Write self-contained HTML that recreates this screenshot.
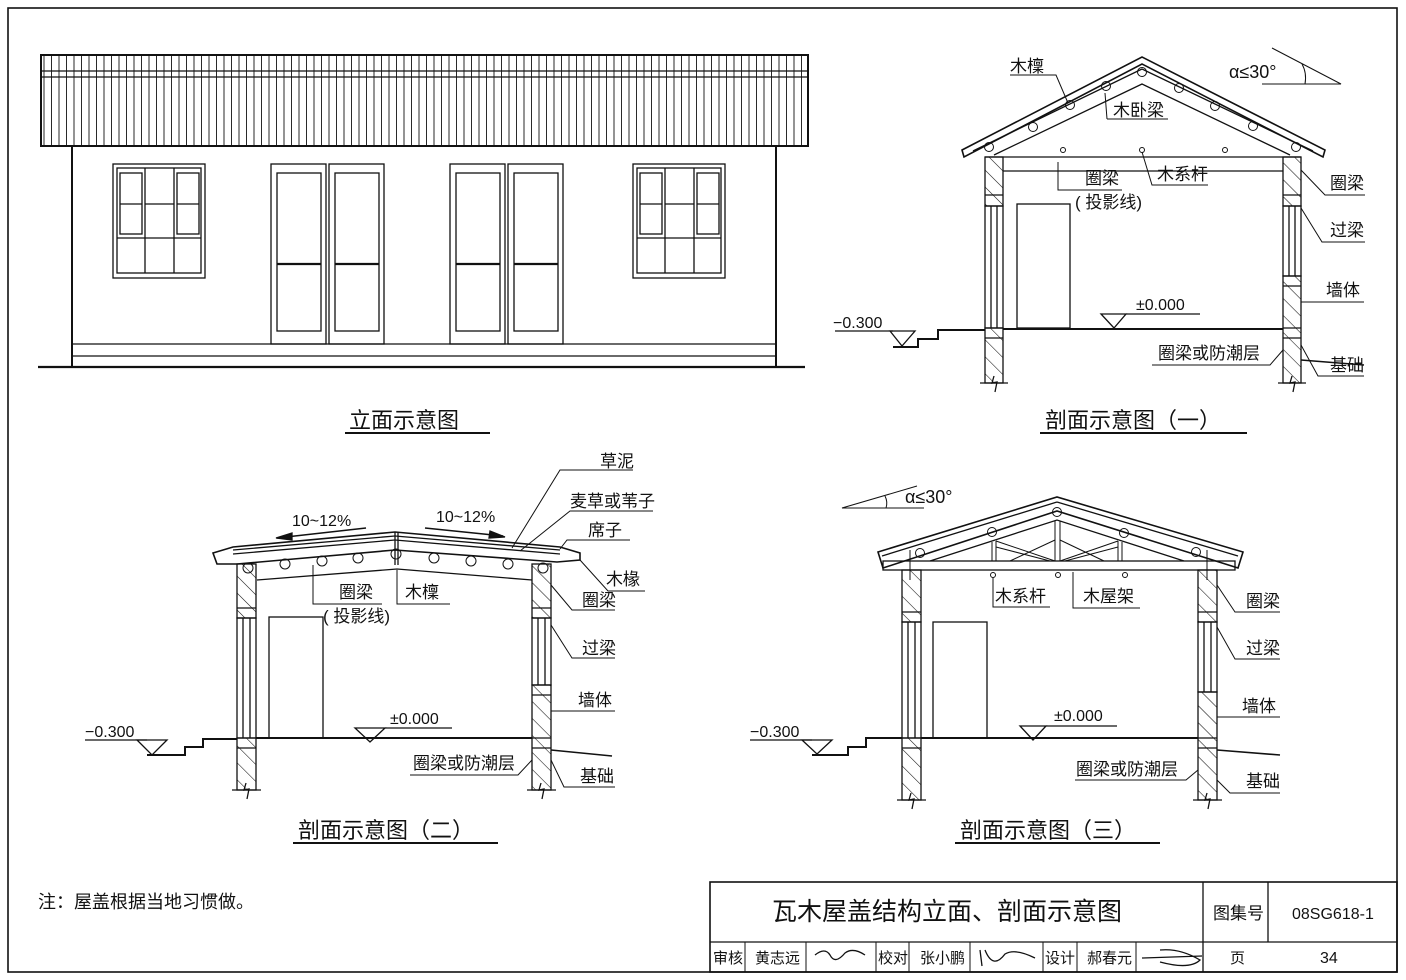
<!DOCTYPE html>
<html><head><meta charset="utf-8"><style>
html,body{margin:0;padding:0;background:#fff}
svg{display:block}
text{font-family:"Liberation Sans","Noto Sans CJK SC",sans-serif;fill:#111}
</style></head><body>
<svg width="1406" height="980" viewBox="0 0 1406 980" xmlns="http://www.w3.org/2000/svg">
<defs>
<pattern id="h" width="12" height="12" patternUnits="userSpaceOnUse" patternTransform="rotate(-45)">
<line x1="0" y1="0" x2="0" y2="12" stroke="#111" stroke-width="1.1"/></pattern>
<pattern id="rv" width="7.5" height="10" patternUnits="userSpaceOnUse" x="41">
<line x1="3" y1="0" x2="3" y2="10" stroke="#111" stroke-width="0.9"/></pattern>
</defs>
<g fill="none" stroke="#111" stroke-width="1.3">
<rect x="8" y="8" width="1389" height="964" stroke-width="1.6"/>
<!-- ELEVATION -->
<rect x="41" y="55" width="767" height="91" fill="url(#rv)" stroke-width="2"/>
<line x1="41" y1="71" x2="808" y2="71"/><line x1="41" y1="77" x2="808" y2="77"/>
<polyline points="72,146 72,367" stroke-width="2"/><polyline points="776,146 776,367" stroke-width="2"/>
<line x1="72" y1="344" x2="776" y2="344"/><line x1="72" y1="356" x2="776" y2="356"/>
<line x1="38" y1="367" x2="805" y2="367" stroke-width="2.2"/>
<g id="win">
<rect x="113" y="164" width="92" height="114"/><rect x="117" y="168" width="84" height="105"/>
<line x1="145" y1="168" x2="145" y2="273"/><line x1="174" y1="168" x2="174" y2="273"/>
<line x1="117" y1="238" x2="201" y2="238"/><line x1="145" y1="204" x2="174" y2="204"/>
<rect x="120" y="173" width="22" height="61"/><rect x="177" y="173" width="22" height="61"/>
<line x1="120" y1="204" x2="142" y2="204"/><line x1="177" y1="204" x2="199" y2="204"/>
</g>
<use href="#win" transform="translate(520,0)"/>
<g id="door">
<rect x="271" y="164" width="55" height="180"/><rect x="329" y="164" width="55" height="180"/>
<rect x="277" y="173" width="44" height="158"/><rect x="335" y="173" width="44" height="158"/>
<line x1="277" y1="264" x2="321" y2="264" stroke-width="2.2"/><line x1="335" y1="264" x2="379" y2="264" stroke-width="2.2"/>
</g>
<use href="#door" transform="translate(179,0)"/>

<!-- SECTION 1 -->
<polygon points="962,150 1142,57 1325,150 1323,157 1142,64 964,157" stroke-width="1.6"/>
<line x1="973" y1="151" x2="1142" y2="69"/><line x1="1142" y1="69" x2="1313" y2="151"/>
<polyline points="994,155 1142,84 1290,155"/>
<line x1="985" y1="157" x2="1301" y2="157"/><line x1="1003" y1="171" x2="1283" y2="171"/>
<g stroke-width="1">
<circle cx="989" cy="147" r="4.5"/><circle cx="1033" cy="127" r="4.5"/><circle cx="1070" cy="105" r="4.5"/><circle cx="1106" cy="86" r="4.5"/><circle cx="1142" cy="72" r="4.5"/><circle cx="1179" cy="88" r="4.5"/><circle cx="1215" cy="106" r="4.5"/><circle cx="1253" cy="126" r="4.5"/><circle cx="1296" cy="147" r="4.5"/>
<circle cx="1063" cy="150" r="2.5"/><circle cx="1142" cy="150" r="2.5"/><circle cx="1225" cy="150" r="2.5"/>
</g>
<g>
<rect x="985" y="157" width="18" height="49" fill="url(#h)"/><line x1="985" y1="195" x2="1003" y2="195"/>
<rect x="985" y="206" width="18" height="122"/><line x1="991" y1="206" x2="991" y2="328"/><line x1="997" y1="206" x2="997" y2="328"/>
<rect x="985" y="328" width="18" height="55" fill="url(#h)"/><line x1="985" y1="338" x2="1003" y2="338"/>
<rect x="1283" y="157" width="18" height="49" fill="url(#h)"/><line x1="1283" y1="195" x2="1301" y2="195"/>
<rect x="1283" y="206" width="18" height="70"/><line x1="1289" y1="206" x2="1289" y2="276"/><line x1="1295" y1="206" x2="1295" y2="276"/>
<rect x="1283" y="276" width="18" height="107" fill="url(#h)"/><line x1="1283" y1="286" x2="1301" y2="286"/><line x1="1283" y1="328" x2="1301" y2="328"/><line x1="1283" y1="338" x2="1301" y2="338"/>
<line x1="980" y1="383" x2="1008" y2="383"/><line x1="1278" y1="383" x2="1306" y2="383"/>
<polyline points="994,376 992,383 997,382 995,392"/><polyline points="1292,376 1290,383 1295,382 1293,392"/>
</g>
<rect x="1017" y="204" width="53" height="124"/>
<line x1="1003" y1="329" x2="1283" y2="329" stroke-width="2"/>
<polyline points="893,347 918,347 918,339 938,339 938,330 985,330" stroke-width="2"/>
<line x1="835" y1="331" x2="893" y2="331"/><polygon points="890,331 915,331 902,346"/>
<polygon points="1101,314 1126,314 1114,328"/><line x1="1126" y1="314" x2="1200" y2="314"/>
<line x1="1301" y1="360" x2="1364" y2="365" stroke-width="1.6"/>
<g stroke-width="1">
<polyline points="1010,75 1056,75 1068,103"/><polyline points="1107,119 1105,93"/><line x1="1107" y1="119" x2="1168" y2="119"/>
<polyline points="1058,162 1058,190 1122,190"/><polyline points="1142,152 1152,185 1208,185"/>
<polyline points="1301,170 1325,195 1365,195"/><polyline points="1301,208 1322,242 1365,242"/>
<line x1="1301" y1="302" x2="1364" y2="302"/><polyline points="1283,350 1270,365 1152,365"/><polyline points="1301,345 1318,376 1364,376"/>
<polyline points="1272,48 1341,84 1262,84"/><path d="M1302,64 Q1307,73 1305,84"/>
</g>

<!-- SECTION 2 -->
<polygon points="213,553 233,547 395,532 560,547 580,553 580,560 557,562 395,550 237,564 217,564" stroke-width="1.6"/>
<line x1="233" y1="550" x2="395" y2="536"/><line x1="395" y1="536" x2="560" y2="550"/>
<line x1="233" y1="554" x2="395" y2="540"/><line x1="395" y1="540" x2="560" y2="554"/>
<polyline points="257,580 397,569 532,580"/><line x1="395" y1="532" x2="395" y2="565"/><line x1="398" y1="532" x2="398" y2="565"/>
<g stroke-width="1">
<circle cx="248" cy="568" r="5"/><circle cx="285" cy="564" r="5"/><circle cx="322" cy="561" r="5"/><circle cx="358" cy="558" r="5"/><circle cx="396" cy="554" r="5"/><circle cx="434" cy="558" r="5"/><circle cx="471" cy="561" r="5"/><circle cx="508" cy="564" r="5"/><circle cx="543" cy="568" r="5"/>
</g>
<g>
<rect x="237" y="564" width="19" height="54" fill="url(#h)"/><line x1="237" y1="608" x2="256" y2="608"/>
<rect x="237" y="618" width="19" height="120"/><line x1="243" y1="618" x2="243" y2="738"/><line x1="250" y1="618" x2="250" y2="738"/>
<rect x="237" y="738" width="19" height="52" fill="url(#h)"/><line x1="237" y1="748" x2="256" y2="748"/>
<rect x="532" y="564" width="19" height="54" fill="url(#h)"/><line x1="532" y1="608" x2="551" y2="608"/>
<rect x="532" y="618" width="19" height="67"/><line x1="538" y1="618" x2="538" y2="685"/><line x1="545" y1="618" x2="545" y2="685"/>
<rect x="532" y="685" width="19" height="105" fill="url(#h)"/><line x1="532" y1="695" x2="551" y2="695"/><line x1="532" y1="738" x2="551" y2="738"/><line x1="532" y1="748" x2="551" y2="748"/>
<line x1="232" y1="790" x2="261" y2="790"/><line x1="527" y1="790" x2="556" y2="790"/>
<polyline points="246,783 244,790 249,789 247,799"/><polyline points="541,783 539,790 544,789 542,799"/>
</g>
<rect x="269" y="617" width="54" height="121"/>
<line x1="256" y1="738" x2="532" y2="738" stroke-width="2"/>
<polyline points="147,755 185,755 185,747 203,747 203,739 237,739" stroke-width="2"/>
<line x1="85" y1="740" x2="147" y2="740"/><polygon points="137,740 167,740 152,755"/>
<polygon points="355,728 385,728 370,742"/><line x1="385" y1="728" x2="452" y2="728"/>
<line x1="551" y1="750" x2="612" y2="756" stroke-width="1.6"/>
<g stroke-width="1">
<polyline points="313,565 313,604 382,604"/><polyline points="397,570 397,604 450,604"/>
<polyline points="512,548 560,470 633,470"/><polyline points="520,551 570,511 653,511"/><polyline points="560,549 567,540 630,540"/>
<polyline points="580,560 608,591 645,591"/><polyline points="551,585 572,610 615,610"/><polyline points="551,625 572,658 615,658"/>
<line x1="551" y1="711" x2="615" y2="711"/><polyline points="532,760 518,775 410,775"/><polyline points="551,760 564,787 615,787"/>
</g>
<g stroke-width="1.6"><line x1="277" y1="538" x2="366" y2="528"/><line x1="425" y1="528" x2="503" y2="536"/></g>
<polygon points="276,538 292,533 292,540" fill="#111"/><polygon points="505,537 490,531 489,538" fill="#111"/>

<!-- SECTION 3 -->
<polygon points="878,552 1057,497 1243,552 1238,568 1057,511 883,568" stroke-width="1.6"/>
<line x1="882" y1="556" x2="1057" y2="502"/><line x1="1057" y1="502" x2="1238" y2="556"/>
<polyline points="930,561 1057,520 1184,561"/>
<rect x="883" y="561" width="352" height="9"/>
<g stroke-width="1">
<line x1="992" y1="542" x2="992" y2="561"/><line x1="996" y1="541" x2="996" y2="561"/>
<line x1="1055" y1="521" x2="1055" y2="561"/><line x1="1060" y1="521" x2="1060" y2="561"/>
<line x1="1118" y1="541" x2="1118" y2="561"/><line x1="1122" y1="542" x2="1122" y2="561"/>
<line x1="996" y1="541" x2="1055" y2="561"/><line x1="996" y1="547" x2="1050" y2="561"/>
<line x1="1060" y1="561" x2="1118" y2="541"/><line x1="1065" y1="561" x2="1118" y2="547"/>
<line x1="1010" y1="561" x2="1055" y2="540"/><line x1="1060" y1="540" x2="1104" y2="561"/>
<circle cx="920" cy="553" r="4.5"/><circle cx="992" cy="532" r="4.5"/><circle cx="1057" cy="512" r="4.5"/><circle cx="1124" cy="533" r="4.5"/><circle cx="1196" cy="552" r="4.5"/>
<circle cx="993" cy="575" r="2.5"/><circle cx="1058" cy="575" r="2.5"/><circle cx="1125" cy="575" r="2.5"/>
<line x1="910" y1="550" x2="910" y2="580"/><line x1="1207" y1="550" x2="1207" y2="580"/>
</g>
<g>
<rect x="902" y="570" width="19" height="52" fill="url(#h)"/><line x1="902" y1="612" x2="921" y2="612"/>
<rect x="902" y="622" width="19" height="116"/><line x1="908" y1="622" x2="908" y2="738"/><line x1="915" y1="622" x2="915" y2="738"/>
<rect x="902" y="738" width="19" height="62" fill="url(#h)"/><line x1="902" y1="748" x2="921" y2="748"/>
<rect x="1198" y="570" width="19" height="52" fill="url(#h)"/><line x1="1198" y1="612" x2="1217" y2="612"/>
<rect x="1198" y="622" width="19" height="70"/><line x1="1204" y1="622" x2="1204" y2="692"/><line x1="1211" y1="622" x2="1211" y2="692"/>
<rect x="1198" y="692" width="19" height="108" fill="url(#h)"/><line x1="1198" y1="738" x2="1217" y2="738"/><line x1="1198" y1="748" x2="1217" y2="748"/>
<line x1="897" y1="800" x2="926" y2="800"/><line x1="1193" y1="800" x2="1222" y2="800"/>
<polyline points="911,793 909,800 914,799 912,809"/><polyline points="1207,793 1205,800 1210,799 1208,809"/>
</g>
<rect x="933" y="622" width="54" height="116"/>
<line x1="921" y1="738" x2="1198" y2="738" stroke-width="2"/>
<polyline points="812,755 848,755 848,747 866,747 866,738 902,738" stroke-width="2"/>
<line x1="750" y1="740" x2="812" y2="740"/><polygon points="802,740 832,740 817,754"/>
<polygon points="1020,726 1046,726 1033,740"/><line x1="1046" y1="726" x2="1117" y2="726"/>
<line x1="1217" y1="750" x2="1280" y2="755" stroke-width="1.6"/>
<g stroke-width="1">
<polyline points="993,578 993,607 1050,607"/><polyline points="1073,572 1073,608 1140,608"/>
<polyline points="1217,585 1235,612 1280,612"/><polyline points="1217,627 1235,659 1280,659"/>
<line x1="1217" y1="717" x2="1280" y2="717"/><polyline points="1198,770 1186,780 1075,780"/><polyline points="1217,780 1230,793 1280,793"/>
<polyline points="917,486 842,508 924,508"/><path d="M885,496 Q888,502 886,508"/>
</g>

<g stroke-width="2"><line x1="345" y1="433" x2="490" y2="433"/><line x1="1040" y1="433" x2="1247" y2="433"/><line x1="293" y1="843" x2="498" y2="843"/><line x1="955" y1="843" x2="1160" y2="843"/></g>
<rect x="710" y="882" width="687" height="90" stroke-width="1.6"/>
<line x1="710" y1="942" x2="1397" y2="942"/>
<line x1="1203" y1="882" x2="1203" y2="972"/><line x1="1268" y1="882" x2="1268" y2="942"/>
<g stroke-width="1"><line x1="745" y1="942" x2="745" y2="972"/><line x1="806" y1="942" x2="806" y2="972"/><line x1="876" y1="942" x2="876" y2="972"/><line x1="909" y1="942" x2="909" y2="972"/><line x1="970" y1="942" x2="970" y2="972"/><line x1="1043" y1="942" x2="1043" y2="972"/><line x1="1077" y1="942" x2="1077" y2="972"/><line x1="1136" y1="942" x2="1136" y2="972"/></g>
<path d="M815,955 q10,-8 15,0 q5,10 15,-2 q8,-6 20,2" stroke-width="1.3"/>
<path d="M980,950 l2,16 M985,950 q8,20 20,4 q10,-6 30,4" stroke-width="1.3"/>
<path d="M1142,958 l60,-2 M1160,950 q20,-2 40,10 q-10,10 -40,2" stroke-width="1.3"/>
</g>
<g font-size="17">
<text x="1010" y="72">木檁</text><text x="1113" y="116">木卧梁</text>
<text x="1085" y="184">圈梁</text><text x="1157" y="180">木系杆</text><text x="1075" y="208">( 投影线)</text>
<text x="1330" y="189">圈梁</text><text x="1330" y="236">过梁</text><text x="1326" y="296">墙体</text>
<text x="1158" y="359">圈梁或防潮层</text><text x="1330" y="371">基础</text>
<text x="1229" y="78" font-size="18">α≤30°</text>
<text x="833" y="328" font-size="16">−0.300</text><text x="1136" y="310" font-size="16">±0.000</text>

<text x="600" y="467">草泥</text><text x="570" y="507">麦草或苇子</text><text x="588" y="536">席子</text>
<text x="606" y="585">木椽</text><text x="582" y="606">圈梁</text><text x="582" y="654">过梁</text><text x="578" y="706">墙体</text>
<text x="413" y="769">圈梁或防潮层</text><text x="580" y="782">基础</text>
<text x="339" y="598">圈梁</text><text x="405" y="598">木檁</text><text x="323" y="622">( 投影线)</text>
<text x="292" y="526" font-size="16">10~12%</text><text x="436" y="522" font-size="16">10~12%</text>
<text x="85" y="737" font-size="16">−0.300</text><text x="390" y="724" font-size="16">±0.000</text>

<text x="905" y="503" font-size="18">α≤30°</text>
<text x="995" y="602">木系杆</text><text x="1083" y="602">木屋架</text>
<text x="1246" y="607">圈梁</text><text x="1246" y="654">过梁</text><text x="1242" y="712">墙体</text>
<text x="1076" y="775">圈梁或防潮层</text><text x="1246" y="787">基础</text>
<text x="750" y="737" font-size="16">−0.300</text><text x="1054" y="721" font-size="16">±0.000</text>
</g>
<g font-size="22">
<text x="349" y="428">立面示意图</text><text x="1045" y="428">剖面示意图（一）</text>
<text x="298" y="838">剖面示意图（二）</text><text x="960" y="838">剖面示意图（三）</text>
</g>
<text x="38" y="908" font-size="18">注：屋盖根据当地习惯做。</text>
<text x="772" y="920" font-size="25">瓦木屋盖结构立面、剖面示意图</text>
<text x="1213" y="919" font-size="17">图集号</text>
<text x="1292" y="919" font-size="16" font-family="Liberation Serif,serif">08SG618-1</text>
<g font-size="15">
<text x="713" y="963">审核</text><text x="755" y="963">黄志远</text><text x="878" y="963">校对</text><text x="920" y="963">张小鹏</text>
<text x="1045" y="963">设计</text><text x="1087" y="963">郝春元</text><text x="1230" y="963">页</text><text x="1320" y="963" font-size="16">34</text>
</g>
</svg>
</body></html>
